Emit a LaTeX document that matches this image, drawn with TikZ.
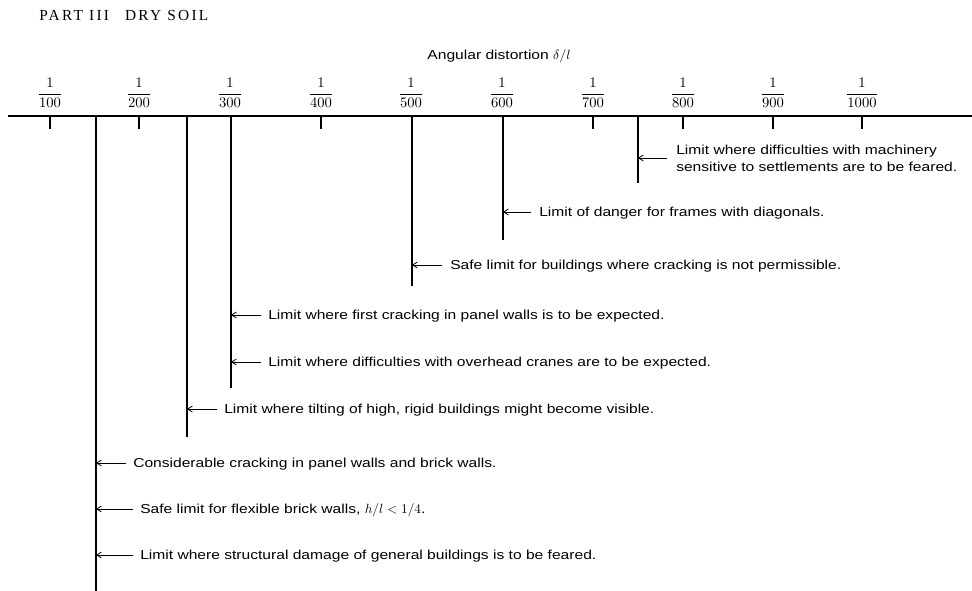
\documentclass[tikz,border=0pt]{standalone}
\usepackage{amsmath}
\usepackage{fontspec}
\usetikzlibrary{arrows.meta}
\newfontfamily\labfont[FakeStretch=1.2]{Liberation Sans}
\newfontfamily\headfont[LetterSpace=15]{Liberation Serif}
\newcommand\fr[1]{$\genfrac{}{}{0.5pt}{0}{1}{#1}$}
\begin{document}
\begin{tikzpicture}[x=0.75pt,y=-0.75pt,
  lbl/.style={anchor=west,inner sep=0pt,font=\labfont\fontsize{9.75}{12.75}\selectfont,text height=7pt,text depth=0pt},
  lbltwo/.style={anchor=west,inner sep=0pt,font=\labfont\fontsize{9.75}{12.75}\selectfont,align=left},
  fracnode/.style={inner sep=0pt,font=\fontsize{10.5}{12}\selectfont},
  axisline/.style={line width=1.1pt},
  vline/.style={line width=1.1pt},
  ticks/.style={line width=0.9pt},
  arr/.style={-{Straight Barb[length=3.5pt,width=4.5pt]},line width=0.6pt}]
\useasboundingbox (0,0) rectangle (972,591);

% heading
\node[anchor=west,inner sep=0pt,font=\headfont\fontsize{11.5}{13}\selectfont] (head) at (39,16) {PART III\hspace{12pt}DRY SOIL};
\node[lbl,anchor=center] (title) at (499,55) {Angular distortion $\delta/l$};

% fractions
\foreach \x/\d/\n in {50/100/f1,139/200/f2,230/300/f3,321/400/f4,411/500/f5,502/600/f6,593/700/f7,683/800/f8,773/900/f9,862/1000/f10}
  \node[fracnode] (\n) at (\x,93) {\fr{\d}};

% axis
\coordinate (axL) at (8,116);
\coordinate (axR) at (972,116);
\draw[axisline] (axL) -- (axR);

% short ticks
\foreach \n in {f1,f2,f4,f7,f8,f9,f10}
  \draw[ticks] (\n |- axL) -- ++(0,13);

% long lines
\coordinate (t1) at (96,116);  \coordinate (b1) at (96,591);
\coordinate (t2) at (187,116); \coordinate (b2) at (187,437);
\coordinate (t3) at (231,116); \coordinate (b3) at (231,388);
\coordinate (t4) at (412,116); \coordinate (b4) at (412,286);
\coordinate (t5) at (503,116); \coordinate (b5) at (503,240);
\coordinate (t6) at (638,116); \coordinate (b6) at (638,183);
\foreach \i in {1,...,6} \draw[vline] (t\i) -- (b\i);

% labels
\node[lbltwo] (mach) at (676,158) {Limit where difficulties with machinery\\sensitive to settlements are to be feared.};
\node[lbl] (dang) at (539,212) {Limit of danger for frames with diagonals.};
\node[lbl] (safe) at (450,265) {Safe limit for buildings where cracking is not permissible.};
\node[lbl] (first) at (268,315) {Limit where first cracking in panel walls is to be expected.};
\node[lbl] (crane) at (268,362) {Limit where difficulties with overhead cranes are to be expected.};
\node[lbl] (tilt) at (224,409) {Limit where tilting of high, rigid buildings might become visible.};
\node[lbl] (cons) at (133,463) {Considerable cracking in panel walls and brick walls.};
\node[lbl] (flex) at (140,509) {Safe limit for flexible brick walls, $h/l<1/4$.};
\node[lbl] (struc) at (140,555) {Limit where structural damage of general buildings is to be feared.};

% arrows
\draw[arr] ([xshift=-7pt]mach.west) -- (mach.west -| t6);
\draw[arr] ([xshift=-6pt]dang.west) -- (dang.west -| t5);
\draw[arr] ([xshift=-6pt]safe.west) -- (safe.west -| t4);
\draw[arr] ([xshift=-5pt]first.west) -- (first.west -| t3);
\draw[arr] ([xshift=-5pt]crane.west) -- (crane.west -| t3);
\draw[arr] ([xshift=-5pt]tilt.west) -- (tilt.west -| t2);
\draw[arr] ([xshift=-5pt]cons.west) -- (cons.west -| t1);
\draw[arr] ([xshift=-5pt]flex.west) -- (flex.west -| t1);
\draw[arr] ([xshift=-5pt]struc.west) -- (struc.west -| t1);
\end{tikzpicture}
\end{document}
